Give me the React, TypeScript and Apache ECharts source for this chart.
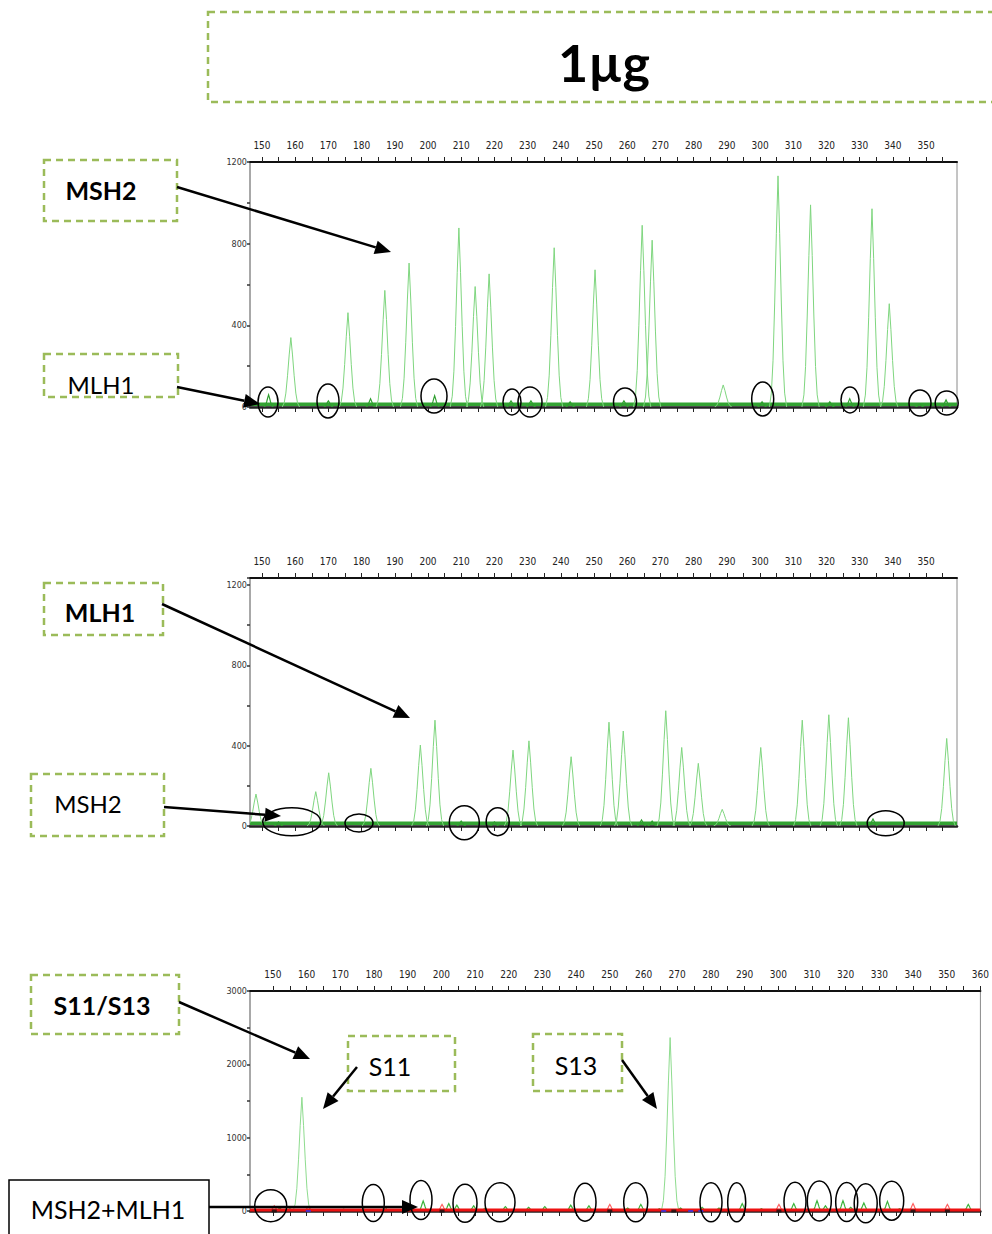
import React, { useEffect, useRef } from "react";
import * as echarts from "echarts";

// ---------- data ----------
const sizeTicks = [150,155,160,165,170,175,180,185,190,195,200,205,210,215,220,225,230,235,240,245,250,255,260,265,270,275,280,285,290,295,300,305,310,315,320,325,330,335,340,345,350,355];
const sizeLabels = [150,160,170,180,190,200,210,220,230,240,250,260,270,280,290,300,310,320,330,340,350];
const sizeTicks3 = [150,155,160,165,170,175,180,185,190,195,200,205,210,215,220,225,230,235,240,245,250,255,260,265,270,275,280,285,290,295,300,305,310,315,320,325,330,335,340,345,350,355,360];
const sizeLabels3 = [150,160,170,180,190,200,210,220,230,240,250,260,270,280,290,300,310,320,330,340,350,360];

// panel 1 : MSH2 trace [size, height]
const msh2Peaks = [
  [152, 60], [158.7, 340], [170, 30], [175.9, 462], [182.7, 40], [187, 571], [194.3, 705],
  [202, 55], [209.3, 877], [214.2, 590], [218.4, 652], [225, 30], [231, 30], [238, 780],
  [242.8, 25], [250.3, 672], [259, 30], [264.5, 890], [267.5, 817], [288.9, 108], [300.6, 25],
  [305.4, 1132], [315.2, 990], [321, 25], [327, 40], [333.7, 971], [338.9, 506], [348, 15], [356, 35],
];
const msh2Noise = [[146.4, 14], [359.3, 14]];

// panel 2 : MLH1 trace
const mlh1Peaks = [
  [148.2, 159], [155, 20], [166.2, 171], [170.1, 265], [182.8, 287], [197.7, 403], [202.1, 527],
  [210, 25], [220, 20], [225.6, 378], [230.4, 424], [243.1, 345], [254.5, 517], [258.8, 473],
  [264.3, 30], [267.5, 25], [271.6, 574], [276.4, 391], [281.4, 312], [288.6, 83], [300.2, 391],
  [312.7, 527], [320.7, 554], [326.6, 539], [334, 35], [356.2, 436],
];
const mlh1Noise = [[146.4, 14], [359.3, 14]];

// panel 3 : S11/S13 trace (green) and size standard (red)
const s11s13Peaks = [
  [152, 40], [155, 30], [158.6, 1551], [171, 25], [177, 25], [183.2, 60], [194.6, 136],
  [202.2, 100], [204.6, 80], [209.6, 70], [213, 40], [219, 60], [225.9, 50], [230.7, 60],
  [238.4, 80], [243.8, 70], [255.3, 40], [259.2, 90], [264.7, 30], [267.9, 2365], [271, 40],
  [277.4, 50], [282.4, 40], [289.3, 100], [295, 30], [304.6, 100], [311.5, 140], [314, 70],
  [319.2, 140], [321.5, 50], [325.4, 110], [332.4, 130], [336, 30], [356.4, 90],
];
const sizeStdPeaks = [[150.4, 70], [160.5, 60], [200.2, 90], [250, 90], [300.2, 90], [340, 100], [350.2, 90]];
const sizeStdBaseline = [[143.2, 15], [360, 15]];
const blackMarks = [[150.4, 0], [200.2, 0], [250, 0], [269, 0], [300.2, 0], [340, 0], [350.2, 0]];
const blueMarks = [[160.5, 0], [266, 0], [274, 0], [277, 0]];

// ---------- annotations (page pixels) ----------
const dashedBoxes = [
  [208, 12, 800, 90], [44, 160, 133, 61], [44, 354, 134, 43], [44, 583, 119, 52],
  [31, 774, 133, 62], [31, 975, 148, 59], [348, 1036, 107, 55], [533, 1034, 89, 57],
];
const labels: [string, number, number, boolean, number][] = [
  ["1µg", 604, 62, true, 52], ["MSH2", 101, 190, true, 25], ["MLH1", 101, 384, false, 24],
  ["MLH1", 100, 612, true, 25], ["MSH2", 88, 803, false, 24], ["S11/S13", 102, 1005, true, 25],
  ["S11", 390, 1066, false, 25], ["S13", 576, 1065, false, 25], ["MSH2+MLH1", 108, 1209, false, 25],
];
const arrows = [
  [177, 187, 391, 252], [177, 387, 260, 404], [162, 604, 410, 718], [164, 807, 281, 816],
  [179, 1002, 310, 1059], [357, 1067, 323, 1109], [622, 1060, 657, 1109], [209, 1207, 418, 1207],
];
const circles = [
  [268, 402, 10, 15], [328, 401, 11, 17], [434, 396, 13, 17], [512, 402, 9, 13], [530, 402, 12, 15],
  [625, 402, 11.5, 14], [762.7, 399, 11, 17], [850, 400, 9, 13], [920, 403, 11, 13], [946.7, 403, 11.5, 12],
  [291.7, 821.7, 29, 14], [359, 823, 14, 9], [464.3, 822.7, 15, 17], [497.7, 821.7, 11.5, 14], [885.7, 823.3, 18.5, 12.5],
  [270.7, 1205.7, 16, 16], [373.3, 1203, 11, 18.5], [421, 1200, 11, 19.5], [465, 1203.3, 12, 19], [500, 1202.3, 15, 19.5],
  [585, 1202.3, 11, 19], [635.7, 1202.3, 12, 19.5], [711, 1202.3, 11, 19.5], [736.7, 1202.3, 9, 19.5], [795, 1201.7, 11, 19.5],
  [819.3, 1201, 12, 20], [846.7, 1202, 11, 19.5], [865.7, 1203.3, 11.5, 19.5], [891.7, 1200.7, 12, 19.5],
];

// ---------- styling helpers ----------
const NARROW = "'Liberation Sans Narrow', 'DejaVu Sans Condensed', 'Liberation Sans', sans-serif";
const PEAK_SHAPE = [[-2.6, 0], [-2, 0.06], [-1.5, 0.2], [-1, 0.45], [-0.5, 0.75], [0, 1], [0.5, 0.75], [1, 0.45], [1.5, 0.2], [2, 0.06], [2.6, 0]];

function peakRender(color: string, smallColor: string, smallLimit: number) {
  return (params: any, api: any) => {
    const x = api.value(0);
    const h = api.value(1);
    const small = h < smallLimit;
    const w = small ? 0.55 : 1;
    const pts = PEAK_SHAPE.map(([dx, fy]) => api.coord([x + dx * w, h * fy]));
    return {
      type: "polyline",
      shape: { points: pts },
      style: { stroke: small ? smallColor : color, fill: null, lineWidth: small ? 1.2 : 1 },
    };
  };
}

function xAxes(gridIndex: number, min: number, max: number, ticks: number[], lbls: number[]) {
  return [
    {
      type: "value", gridIndex, min, max, position: "top",
      axisLine: { show: true, onZero: false, lineStyle: { color: "#111", width: 2 } },
      axisTick: { show: true, customValues: ticks, length: 5, lineStyle: { color: "#222", width: 1 } },
      axisLabel: { show: true, customValues: lbls, fontSize: 10, fontFamily: NARROW, color: "#222", margin: 12 },
      splitLine: { show: false },
    },
    {
      type: "value", gridIndex, min, max, position: "top",
      axisLine: { show: false },
      axisTick: { show: true, inside: true, customValues: ticks, length: 5, lineStyle: { color: "#222", width: 1 } },
      axisLabel: { show: false },
      splitLine: { show: false },
    },
    {
      type: "value", gridIndex, min, max, position: "bottom",
      axisLine: { show: true, onZero: false, lineStyle: { color: "#222", width: 2.5 } },
      axisTick: { show: false }, axisLabel: { show: false }, splitLine: { show: false },
    },
  ];
}

function yAxis(gridIndex: number, max: number, interval: number, labelStep: number) {
  return {
    type: "value", gridIndex, min: 0, max, interval,
    axisLine: { show: true, lineStyle: { color: "#a8a8a8", width: 2 } },
    axisTick: { show: true, length: 3, lineStyle: { color: "#333", width: 1.5 } },
    axisLabel: {
      show: true, fontSize: 9, fontFamily: NARROW, color: "#333", margin: 3,
      formatter: (v: number) => (v % labelStep === 0 ? String(v) : ""),
    },
    splitLine: { show: false },
  };
}

function arrowEls(x1: number, y1: number, x2: number, y2: number) {
  const dx = x2 - x1, dy = y2 - y1;
  const L = Math.hypot(dx, dy);
  const ux = dx / L, uy = dy / L;
  const hl = 16, hw = 7;
  const bx = x2 - ux * hl, by = y2 - uy * hl;
  return [
    { type: "line", z: 100, shape: { x1, y1, x2: bx, y2: by }, style: { stroke: "#000", lineWidth: 2.5 } },
    { type: "polygon", z: 100, shape: { points: [[x2, y2], [bx - uy * hw, by + ux * hw], [bx + uy * hw, by - ux * hw]] }, style: { fill: "#000" } },
  ];
}

export default function App() {
  const ref = useRef<HTMLDivElement>(null);
  useEffect(() => {
    if (!ref.current) return;
    const chart = echarts.init(ref.current, undefined, { renderer: "svg" });

    const graphic: any[] = [];
    dashedBoxes.forEach(([x, y, w, h]) =>
      graphic.push({ type: "rect", z: 100, shape: { x, y, width: w, height: h }, style: { fill: null, stroke: "#9bbb59", lineWidth: 2.5, lineDash: [7, 5] } })
    );
    graphic.push({ type: "rect", z: 100, shape: { x: 9, y: 1180, width: 200, height: 70 }, style: { fill: "#fff", stroke: "#000", lineWidth: 1.5 } });
    labels.forEach(([t, x, y, bold, size]) =>
      graphic.push({
        type: "text", z: 101, x, y,
        style: { text: t, font: `${bold ? "bold " : ""}${size}px Lato, 'Noto Sans', sans-serif`, fill: "#000", align: "center", verticalAlign: "middle", textAlign: "center", textVerticalAlign: "middle" },
      })
    );
    arrows.forEach(([a, b, c, d]) => graphic.push(...arrowEls(a, b, c, d)));
    circles.forEach(([cx, cy, rx, ry]) =>
      graphic.push({ type: "ellipse", z: 100, shape: { cx, cy, rx, ry }, style: { fill: null, stroke: "#000", lineWidth: 1.5 } })
    );

    const gridStyle = { show: true, borderColor: "#8a8a8a", borderWidth: 1, backgroundColor: "transparent" };

    chart.setOption({
      animation: false,
      grid: [
        { left: 250, top: 162, width: 707, height: 245, ...gridStyle },
        { left: 250, top: 578, width: 707, height: 248, ...gridStyle },
        { left: 250, top: 991, width: 731, height: 220, ...gridStyle },
      ],
      xAxis: [
        ...xAxes(0, 146.4, 359.3, sizeTicks, sizeLabels),
        ...xAxes(1, 146.4, 359.3, sizeTicks, sizeLabels),
        ...xAxes(2, 143.2, 360, sizeTicks3, sizeLabels3),
      ],
      yAxis: [yAxis(0, 1200, 200, 400), yAxis(1, 1235, 200, 400), yAxis(2, 3000, 500, 1000)],
      series: [
        { type: "line", xAxisIndex: 0, yAxisIndex: 0, data: msh2Noise, showSymbol: false, silent: true, lineStyle: { color: "#33a333", width: 3.5 }, z: 2 },
        { type: "custom", xAxisIndex: 0, yAxisIndex: 0, data: msh2Peaks, renderItem: peakRender("#7fd67f", "#2f9f2f", 70), clip: true, silent: true, encode: { x: 0, y: 1 }, z: 3 },
        { type: "line", xAxisIndex: 3, yAxisIndex: 1, data: mlh1Noise, showSymbol: false, silent: true, lineStyle: { color: "#33a333", width: 3.5 }, z: 2 },
        { type: "custom", xAxisIndex: 3, yAxisIndex: 1, data: mlh1Peaks, renderItem: peakRender("#7fd67f", "#2f9f2f", 70), clip: true, silent: true, encode: { x: 0, y: 1 }, z: 3 },
        { type: "custom", xAxisIndex: 6, yAxisIndex: 2, data: s11s13Peaks, renderItem: peakRender("#8fdc8f", "#3cb43c", 200), clip: true, silent: true, encode: { x: 0, y: 1 }, z: 3 },
        { type: "custom", xAxisIndex: 6, yAxisIndex: 2, data: sizeStdPeaks, renderItem: peakRender("#ff6060", "#ff6060", 200), clip: true, silent: true, encode: { x: 0, y: 1 }, z: 3 },
        { type: "line", xAxisIndex: 6, yAxisIndex: 2, data: sizeStdBaseline, showSymbol: false, silent: true, lineStyle: { color: "#ee1111", width: 3 }, z: 4 },
        { type: "scatter", xAxisIndex: 6, yAxisIndex: 2, data: blackMarks, symbol: "rect", symbolSize: [5, 3], itemStyle: { color: "#111" }, silent: true, z: 5 },
        { type: "scatter", xAxisIndex: 6, yAxisIndex: 2, data: blueMarks, symbol: "rect", symbolSize: [5, 2], itemStyle: { color: "#3333ee" }, silent: true, z: 5 },
      ],
      graphic,
    });
    return () => chart.dispose();
  }, []);
  return <div ref={ref} style={{ position: "absolute", left: 0, top: 0, width: 992, height: 1234, background: "#fff" }} />;
}
